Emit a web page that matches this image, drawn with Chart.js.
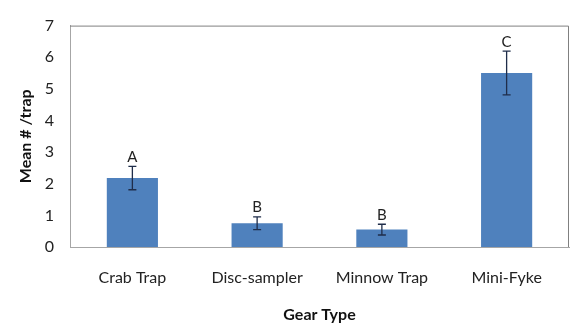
<!DOCTYPE html>
<html>
<head>
<meta charset="utf-8">
<script src="https://cdn.jsdelivr.net/npm/chart.js@4"></script>
<style>
  html,body{margin:0;padding:0;background:#fff;}
  #wrap{width:580px;height:325px;}
</style>
</head>
<body>
<div id="wrap"><canvas id="chart" width="580" height="325"></canvas></div>
<script>
const gearTypes = ["Crab Trap", "Disc-sampler", "Minnow Trap", "Mini-Fyke"];
const meanPerTrap = [2.18, 0.75, 0.55, 5.5];
const stdErr = [0.37, 0.2, 0.17, 0.69];
const groupLetters = ["A", "B", "B", "C"];
const yTicks = [0, 1, 2, 3, 4, 5, 6, 7];

const FONT = "Lato, Carlito, 'DejaVu Sans', sans-serif";

// error bars, significance letters and the box frame
const extrasPlugin = {
  id: "extras",
  afterDatasetsDraw(chart){
    const ctx = chart.ctx;
    const x = chart.scales.x;
    const y = chart.scales.y;
    const area = chart.chartArea;

    ctx.save();
    ctx.strokeStyle = "#808080";
    ctx.lineWidth = 1;
    ctx.beginPath();
    ctx.moveTo(area.left, area.top + 0.5);
    ctx.lineTo(area.right - 0.5, area.top + 0.5);
    ctx.lineTo(area.right - 0.5, area.bottom);
    ctx.stroke();

    meanPerTrap.forEach((m,i)=>{
      const cx = x.getPixelForValue(i);
      const hi = y.getPixelForValue(m + stdErr[i]);
      const lo = y.getPixelForValue(m - stdErr[i]);
      ctx.strokeStyle = "#1f2d4a";
      ctx.lineWidth = 1.3;
      ctx.beginPath();
      ctx.moveTo(cx, hi); ctx.lineTo(cx, lo);
      ctx.moveTo(cx-4, hi); ctx.lineTo(cx+4, hi);
      ctx.moveTo(cx-4, lo); ctx.lineTo(cx+4, lo);
      ctx.stroke();

      ctx.fillStyle = "#222";
      ctx.font = "15px " + FONT;
      ctx.textAlign = "center";
      ctx.textBaseline = "bottom";
      ctx.fillText(groupLetters[i], cx, hi - 2);
    });
    ctx.restore();
  }
};

new Chart(document.getElementById("chart"), {
  type: "bar",
  data: {
    labels: gearTypes,
    datasets: [{
      data: meanPerTrap,
      backgroundColor: "#4f81bd",
      borderWidth: 0,
      categoryPercentage: 1,
      barPercentage: 0.41
    }]
  },
  options: {
    responsive: false,
    animation: false,
    layout: { padding: { top: 13, right: 11, left: 0, bottom: 0 } },
    plugins: { legend: { display: false }, tooltip: { enabled: false } },
    scales: {
      x: {
        grid: { display: false, drawTicks: false },
        border: { color: "#a6a6a6", width: 1 },
        ticks: { color: "#222", padding: 21, font: { family: FONT, size: 16 } },
        title: {
          display: true, text: "Gear Type", color: "#111",
          font: { family: FONT, size: 16, weight: "bold" },
          padding: { top: 20, bottom: 1 }
        },
        afterFit(scale){ scale.height = 78; }
      },
      y: {
        min: 0, max: 7,
        afterBuildTicks(scale){ scale.ticks = yTicks.map(v=>({ value: v })); },
        grid: { display: false, drawTicks: false },
        border: { color: "#a6a6a6", width: 1 },
        ticks: { color: "#222", padding: 16, font: { family: FONT, size: 16 } },
        title: {
          display: true, text: "Mean # /trap", color: "#111",
          font: { family: FONT, size: 16, weight: "bold" },
          padding: { top: 16, bottom: 4 }
        },
        afterFit(scale){ scale.width = 70; }
      }
    }
  },
  plugins: [extrasPlugin]
});
</script>
</body>
</html>
